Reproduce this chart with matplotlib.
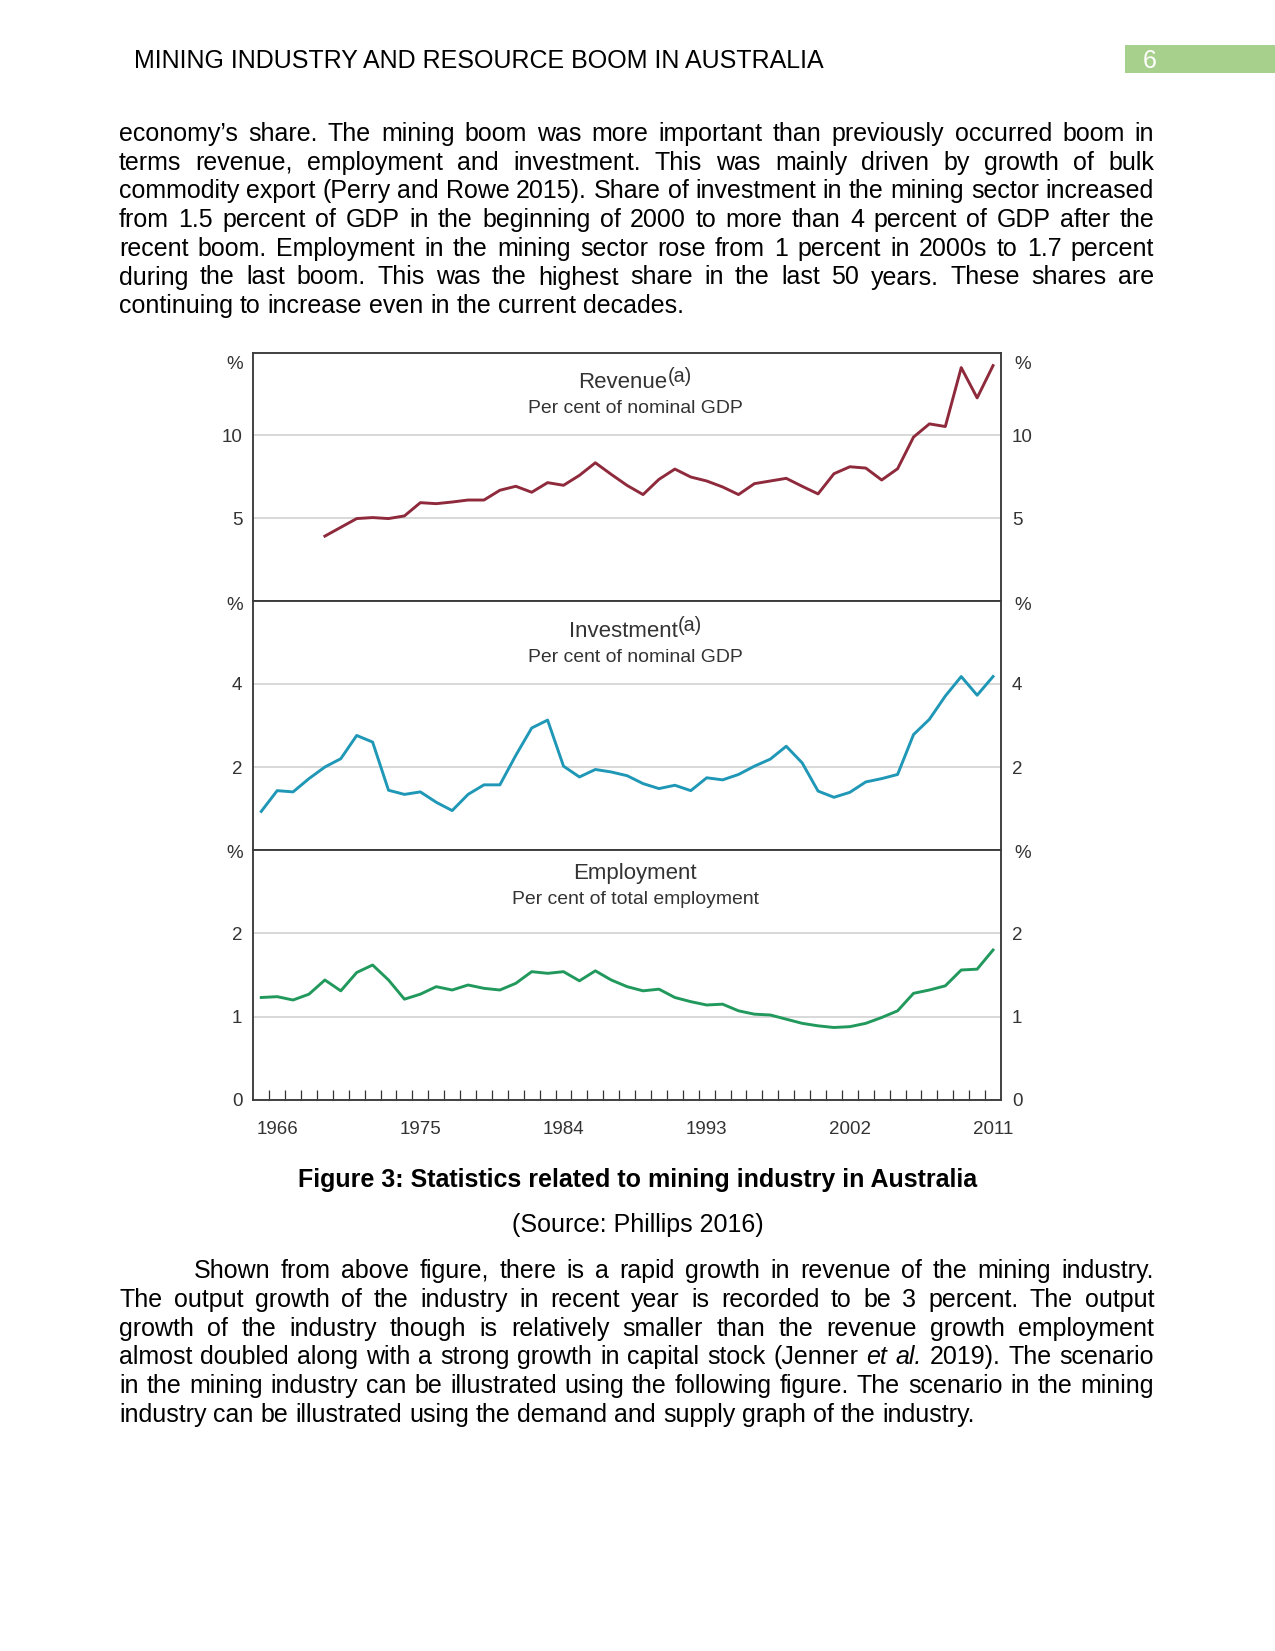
import matplotlib
matplotlib.use('Agg')
import matplotlib.pyplot as plt
from matplotlib.patches import Rectangle

plt.rcParams['font.family'] = ['Liberation Sans', 'DejaVu Sans']

# ---- data (per cent) ----
YEARS = list(range(1965, 2012))
REVENUE_YEARS = list(range(1969, 2012))
REVENUE = [3.92, 4.45, 4.98, 5.04, 4.98, 5.14, 5.94, 5.88, 5.98, 6.10, 6.10,
           6.69, 6.93, 6.57, 7.15, 6.99, 7.59, 8.35, 7.65, 6.98, 6.43,
           7.35, 7.97, 7.49, 7.25, 6.89, 6.43, 7.09, 7.25, 7.41, 6.93,
           6.47, 7.69, 8.11, 8.03, 7.31, 7.99, 9.90, 10.70, 10.54, 14.10,
           12.27, 14.22]
INVESTMENT = [0.93, 1.43, 1.40, 1.72, 2.00, 2.20, 2.76, 2.60, 1.44, 1.34,
              1.40, 1.15, 0.95, 1.34, 1.57, 1.57, 2.28, 2.94, 3.13, 2.02,
              1.76, 1.94, 1.88, 1.79, 1.60, 1.48, 1.56, 1.43, 1.74, 1.69,
              1.82, 2.02, 2.19, 2.50, 2.10, 1.42, 1.27, 1.39, 1.64, 1.72,
              1.82, 2.78, 3.15, 3.71, 4.18, 3.73, 4.18]
EMPLOYMENT = [1.23, 1.24, 1.20, 1.27, 1.44, 1.31, 1.53, 1.62, 1.44, 1.21,
              1.27, 1.36, 1.32, 1.38, 1.34, 1.32, 1.40, 1.54, 1.52, 1.54,
              1.43, 1.55, 1.44, 1.36, 1.31, 1.33, 1.23, 1.18, 1.14, 1.15,
              1.07, 1.03, 1.02, 0.97, 0.92, 0.89, 0.87, 0.88, 0.92, 0.99,
              1.07, 1.28, 1.32, 1.37, 1.56, 1.57, 1.80]
LABEL_YEARS = [1966, 1975, 1984, 1993, 2002, 2011]

TITLES = ['Revenue', 'Investment', 'Employment']
SUBTITLES = ['Per cent of nominal GDP', 'Per cent of nominal GDP',
             'Per cent of total employment']
NOTES = ['(a)', '(a)', '']
YMAX = [15, 6, 3]
YTICKS = [[5, 10], [2, 4], [0, 1, 2]]

BODY_1 = [
    "economy\u2019s share. The mining boom was more important than previously occurred boom in",
    "terms revenue, employment and investment. This was mainly driven by growth of bulk",
    "commodity export (Perry and Rowe 2015). Share of investment in the mining sector increased",
    "from 1.5 percent of GDP in the beginning of 2000 to more than 4 percent of GDP after the",
    "recent boom. Employment in the mining sector rose from 1 percent in 2000s to 1.7 percent",
    "during the last boom. This was the highest share in the last 50 years. These shares are",
    "continuing to increase even in the current decades.",
]
BODY_2 = [
    "Shown from above figure, there is a rapid growth in revenue of the mining industry.",
    "The output growth of the industry in recent year is recorded to be 3 percent. The output",
    "growth of the industry though is relatively smaller than the revenue growth employment",
    "almost doubled along with a strong growth in capital stock (Jenner et al. 2019). The scenario",
    "in the mining industry can be illustrated using the following figure. The scenario in the mining",
    "industry can be illustrated using the demand and supply graph of the industry.",
]
ITALIC = {'et', 'al.'}

W, H, DPI = 1275, 1651, 150
fig = plt.figure(figsize=(W / DPI, H / DPI), dpi=DPI)
fig.patch.set_facecolor('white')


def fx(x):
    return x / W


def fy(y):
    return 1 - y / H


def text_line(words, x0, x1, base, last=False):
    r = fig.canvas.get_renderer()
    items = []
    for w in words:
        style = 'italic' if w in ITALIC else 'normal'
        t = fig.text(0, fy(base), w, fontsize=12, va='baseline', style=style)
        items.append((t, t.get_window_extent(r).width))
    total = sum(wd for _, wd in items)
    if last or len(items) == 1:
        gap = 12 * DPI / 72 * 0.278
    else:
        gap = (x1 - x0 - total) / (len(items) - 1)
    x = x0
    for t, wd in items:
        t.set_x(fx(x))
        x += wd + gap


# header
fig.text(fx(134), fy(67.7), "MINING INDUSTRY AND RESOURCE BOOM IN AUSTRALIA",
         fontsize=12, va='baseline')
fig.add_artist(Rectangle((fx(1125), fy(73)), fx(150), 28 / H,
                         transform=fig.transFigure, color='#a8d08d', lw=0))
fig.text(fx(1143), fy(67.7), "6", fontsize=12, va='baseline', color='white')

for i, line in enumerate(BODY_1):
    text_line(line.split(), 119, 1154, 141 + i * 28.7, last=(i == len(BODY_1) - 1))

# chart
tops = [352.7, 601, 850]
bottoms = [601, 850, 1100]
title_y = [(388.3, 412.7), (637.3, 661.7), (879.3, 904.3)]
pct_off = [12, 4, 4]
series = [(REVENUE_YEARS, REVENUE, '#8e2a3c'),
          (YEARS, INVESTMENT, '#1f97b6'),
          (YEARS, EMPLOYMENT, '#22995c')]
dark = '#333333'

for i in range(3):
    ax = fig.add_axes([fx(253.3), fy(bottoms[i]), (1001 - 253.3) / W,
                       (bottoms[i] - tops[i]) / H])
    xs, ys, col = series[i]
    ax.plot(xs, ys, color=col, lw=1.4, solid_joinstyle='round', zorder=3)
    ax.set_xlim(YEARS[0] - 0.5, YEARS[-1] + 0.5)
    ax.set_ylim(0, YMAX[i])
    ax.set_yticks(YTICKS[i])
    ax.yaxis.grid(True, color='#d2d2d2', lw=0.8)
    ax.set_axisbelow(True)
    ax.tick_params(axis='y', length=0, labelsize=9, labelcolor=dark, pad=5.3,
                   labelright=True)
    for s in ax.spines.values():
        s.set_linewidth(0.9)
        s.set_color('#3a3a3a')
    if i < 2:
        ax.set_xticks([])
    else:
        ax.set_xticks(LABEL_YEARS)
        ax.set_xticks([y + 0.5 for y in YEARS[:-1]], minor=True)
        ax.tick_params(axis='x', which='major', length=0, pad=10, labelsize=9,
                       labelcolor=dark)
        ax.tick_params(axis='x', which='minor', direction='in', length=4.6,
                       width=0.6, color='#333333')
    for xa, dx, ha in [(0, -10, 'right'), (1, 13, 'left')]:
        ax.annotate('%', xy=(xa, 1), xycoords='axes fraction',
                    xytext=(dx, -pct_off[i]), textcoords='offset pixels',
                    ha=ha, va='center', fontsize=9, color=dark)
    if NOTES[i]:
        t = fig.text(fx(623), fy(title_y[i][0]), TITLES[i], fontsize=10.7,
                     ha='center', va='baseline', color=dark)
        fig.canvas.draw()
        ax.annotate(NOTES[i], xy=(1, 1), xycoords=t, xytext=(0.2, 2.5),
                    textcoords='offset points', ha='left', va='top',
                    fontsize=9.5, color=dark)
    else:
        fig.text(fx(635), fy(title_y[i][0]), TITLES[i], fontsize=10.7,
                 ha='center', va='baseline', color=dark)
    fig.text(fx(635), fy(title_y[i][1]), SUBTITLES[i], fontsize=9.3,
             ha='center', va='baseline', color=dark)

# caption
fig.text(0.5, fy(1187.3), "Figure 3: Statistics related to mining industry in Australia",
         fontsize=12, fontweight='bold', ha='center', va='baseline')
fig.text(0.5, fy(1232), "(Source: Phillips 2016)", fontsize=12, ha='center', va='baseline')

for i, line in enumerate(BODY_2):
    text_line(line.split(), 193.7 if i == 0 else 119, 1154, 1278.3 + i * 28.7,
              last=(i == len(BODY_2) - 1))

fig.savefig('out.png', dpi=DPI)
